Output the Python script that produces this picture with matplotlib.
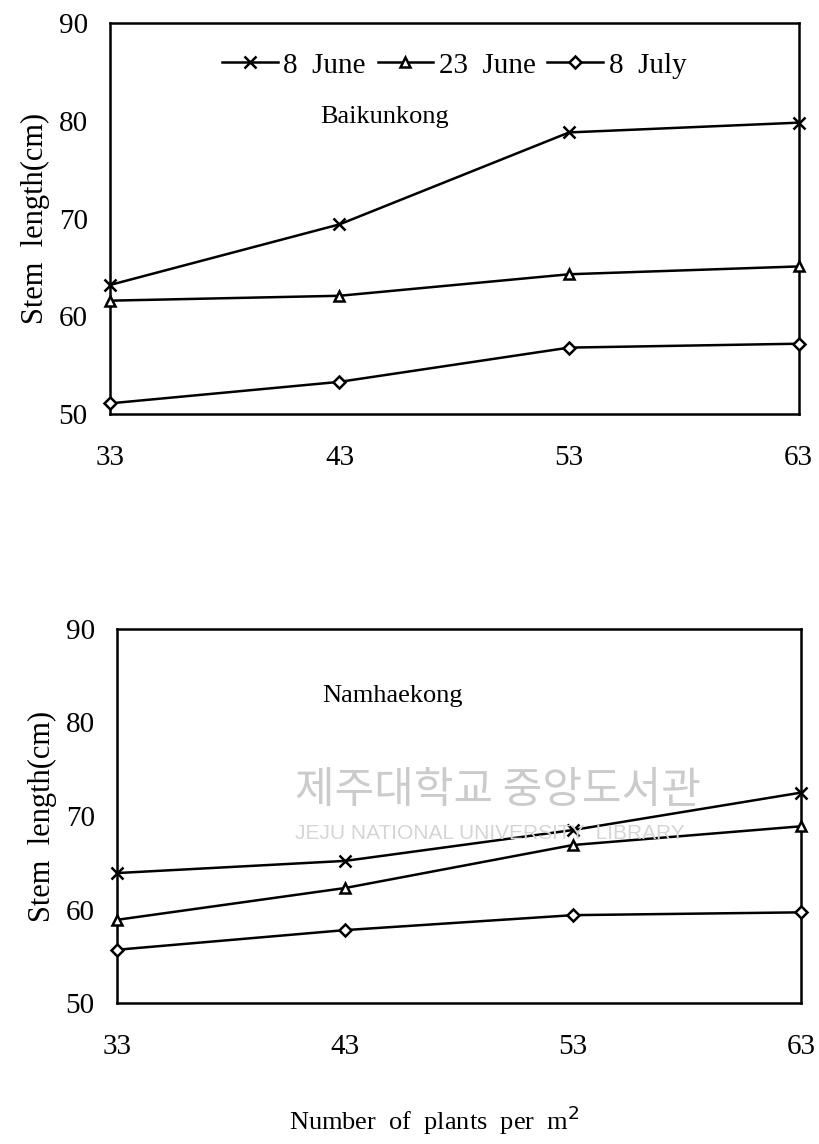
import matplotlib
matplotlib.use("Agg")
import matplotlib.pyplot as plt

density = [33, 43, 53, 63]
dates = ["8  June", "23  June", "8  July"]
baik_8jun = [63.2, 69.4, 78.8, 79.8]
baik_23jun = [61.6, 62.1, 64.3, 65.1]
baik_8jul = [51.1, 53.3, 56.8, 57.2]
namh_8jun = [63.9, 65.2, 68.5, 72.5]
namh_23jun = [58.9, 62.3, 66.9, 68.9]
namh_8jul = [55.7, 57.8, 59.4, 59.7]
yticks = [50, 60, 70, 80, 90]

plt.rcParams['font.family'] = ['Liberation Serif', 'DejaVu Serif']

fig = plt.figure(figsize=(8.2, 11.44), dpi=100)
ax1 = fig.add_axes([0.134, 0.638, 0.840, 0.342])
ax2 = fig.add_axes([0.1427, 0.1232, 0.834, 0.327])

markers = ['x', '^', 'D']
msizes = [9, 7, 6]

def draw(ax, series, label, lx, ly, legend=False):
    for s, m, ms, lab in zip(series, markers, msizes, dates):
        ax.plot(density, s, color='black', lw=1.8, marker=m, ms=ms,
                mfc='white', mec='black', mew=1.8, label=lab, clip_on=False,
                zorder=3)
    ax.set_xlim(33, 63)
    ax.set_ylim(50, 90)
    ax.set_xticks(density)
    ax.set_yticks(yticks)
    ax.tick_params(length=0, labelsize=21)
    ax.tick_params(axis='x', pad=22)
    ax.tick_params(axis='y', pad=16)
    for sp in ax.spines.values():
        sp.set_linewidth(1.8)
    ax.set_ylabel("Stem  length(cm)", fontsize=22, labelpad=6)
    ax.text(lx, ly, label, fontsize=19, ha='left', va='center',
            transform=ax.transAxes)
    if legend:
        ax.legend(loc='upper center', bbox_to_anchor=(0.5, 0.97), ncol=3,
                  frameon=False, fontsize=21, handlelength=1.9,
                  handletextpad=0.2, columnspacing=0.4, borderaxespad=0.2)

draw(ax1, [baik_8jun, baik_23jun, baik_8jul], "Baikunkong", 0.305, 0.76, legend=True)
draw(ax2, [namh_8jun, namh_23jun, namh_8jul], "Namhaekong", 0.300, 0.82)

# watermark
fig.text(0.36, 0.309, "제주대학교 중앙도서관", fontsize=31, color='#cbcbcb',
         family=['Noto Sans CJK KR', 'DejaVu Sans'], ha='left', va='center', zorder=0)
fig.text(0.36, 0.271, "JEJU NATIONAL UNIVERSITY  LIBRARY", fontsize=15, color='#d5d5d5',
         family=['Liberation Sans', 'DejaVu Sans'], ha='left', va='center', zorder=0)

fig.text(0.53, 0.021, "Number  of  plants  per  m$^2$", fontsize=19, ha='center', va='center')

fig.savefig("out.png", dpi=100)
